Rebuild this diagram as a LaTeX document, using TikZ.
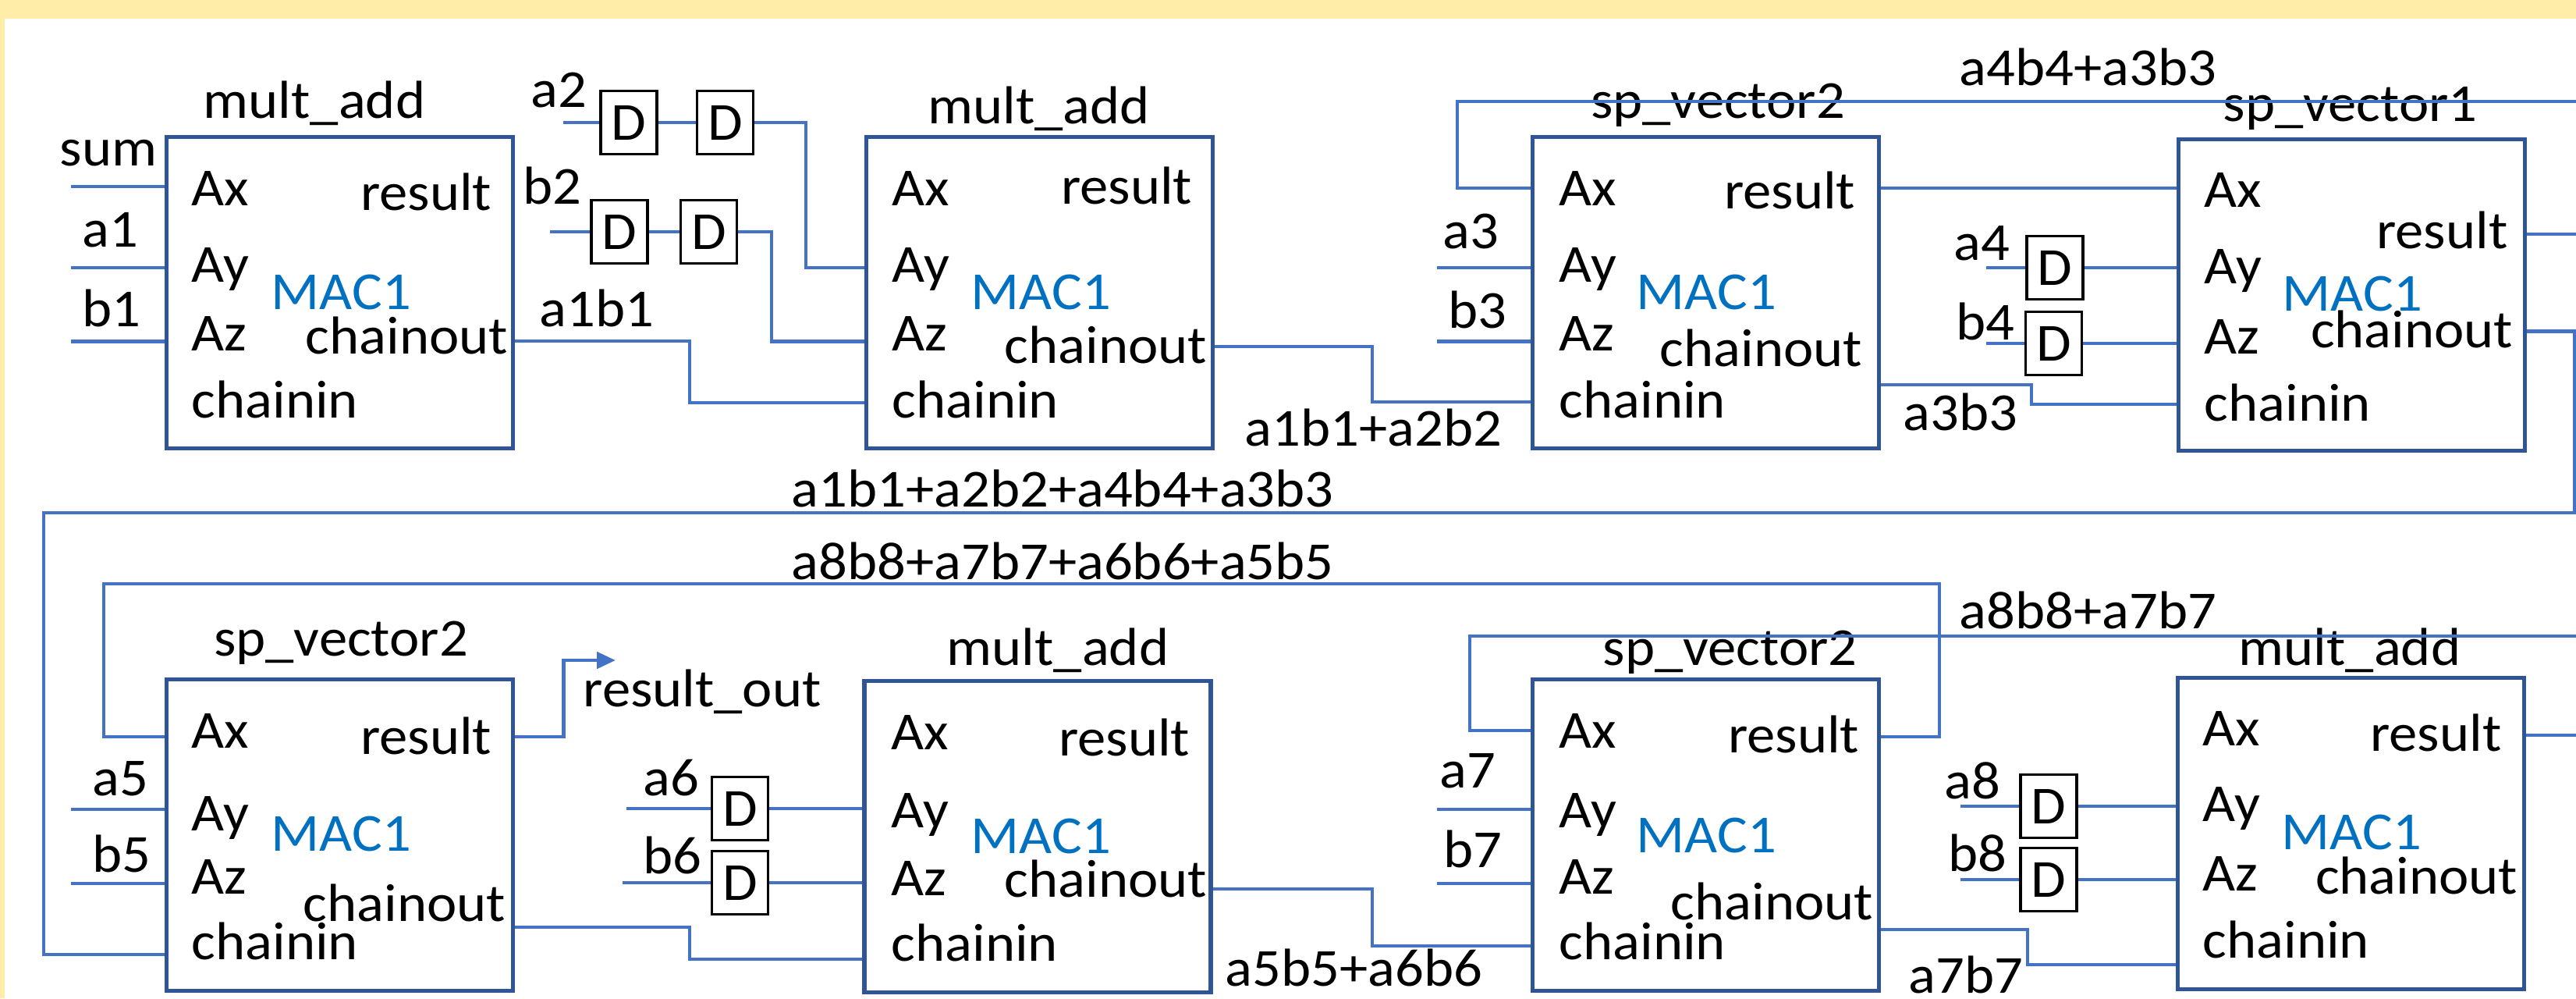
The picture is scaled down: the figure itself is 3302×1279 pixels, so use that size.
\documentclass[tikz,border=0pt]{standalone}
\usepackage{fontspec}
\setmainfont{Carlito}[FakeStretch=1.06]
\usepackage{xcolor}
\usetikzlibrary{arrows.meta, positioning}

\definecolor{boxblue}{HTML}{2F5597}
\definecolor{wireblue}{HTML}{4472C4}
\definecolor{macblue}{HTML}{0070C0}
\definecolor{bandyellow}{HTML}{FFEDA8}

\begin{document}
\begin{tikzpicture}[
  x=0.1mm, y=-0.1mm,
  font=\fontsize{19.5}{24}\selectfont,
  mac/.style={
    draw=boxblue,
    line width=1.6pt,
    minimum width=44.4mm,
    minimum height=39.9mm,
    inner sep=0pt
  },
  dff/.style={draw, line width=0.9pt, fill=white, minimum width=7.2mm, minimum height=8.1mm, inner sep=0pt},
  wire/.style={draw=wireblue, line width=1.4pt},
  outwire/.style={wire, -{Triangle[length=2.4mm, width=2.1mm]}},
  txt/.style={anchor=base west, inner sep=0pt},
  txtr/.style={anchor=base east, inner sep=0pt},
  title/.style={anchor=base, inner sep=0pt},
  tag/.style={anchor=base west, inner sep=0pt, text=macblue}
]

% frame
\useasboundingbox (0,0) rectangle (3302,1279);
\fill[white] (0,0) rectangle (3302,1279);
\fill[bandyellow] (0,0) rectangle (3302,24);
\fill[bandyellow] (0,0) rectangle (6,1279);

% ================= row 1 =================
\node[mac] (madd_a) at (435.5,375) {};
\node[title] (madd_a_t) at (403,151) {mult\_add};
\node[txt] (madd_a_ax) at (245,263) {Ax};
\node[txt] (madd_a_ay) at (245,361) {Ay};
\node[txt] (madd_a_az) at (245,449) {Az};
\node[txt] (madd_a_ci) at (245,535) {chainin};
\node[txtr] (madd_a_r) at (631,269) {result};
\node[txtr] (madd_a_co) at (652,453) {chainout};
\node[tag] (madd_a_m) at (347,396) {MAC1};

\node[mac] (madd_b) at (1332.5,375) {};
\node[title] (madd_b_t) at (1331.5,158) {mult\_add};
\node[txt] (madd_b_ax) at (1143,263) {Ax};
\node[txt] (madd_b_ay) at (1143,361) {Ay};
\node[txt] (madd_b_az) at (1143,449) {Az};
\node[txt] (madd_b_ci) at (1143,535) {chainin};
\node[txtr] (madd_b_r) at (1529,261) {result};
\node[txtr] (madd_b_co) at (1548,465) {chainout};
\node[tag] (madd_b_m) at (1244,396) {MAC1};

\node[mac] (spv2_a) at (2186.5,375) {};
\node[title] (spv2_a_t) at (2202,151) {sp\_vector2};
\node[txt] (spv2_a_ax) at (1998,263) {Ax};
\node[txt] (spv2_a_ay) at (1998,361) {Ay};
\node[txt] (spv2_a_az) at (1998,449) {Az};
\node[txt] (spv2_a_ci) at (1998,535) {chainin};
\node[txtr] (spv2_a_r) at (2379,267) {result};
\node[txtr] (spv2_a_co) at (2388,469) {chainout};
\node[tag] (spv2_a_m) at (2097,396) {MAC1};

\node[mac] (spv1) at (3014.5,378) {};
\node[title] (spv1_t) at (3012.5,155) {sp\_vector1};
\node[txt] (spv1_ax) at (2825,265) {Ax};
\node[txt] (spv1_ay) at (2825,363) {Ay};
\node[txt] (spv1_az) at (2825,453) {Az};
\node[txt] (spv1_ci) at (2825,539) {chainin};
\node[txtr] (spv1_r) at (3215,318) {result};
\node[txtr] (spv1_co) at (3222,445) {chainout};
\node[tag] (spv1_m) at (2925,398) {MAC1};

% inputs, row 1
\coordinate (in_sum) at (91,239);
\coordinate (in_a1) at (91,343);
\coordinate (in_b1) at (91,437.5);
\node[txt] (l_sum) at (76,212) {sum};
\node[txt] (l_a1) at (105,316) {a1};
\node[txt] (l_b1) at (105,418) {b1};
\draw[wire] (in_sum) -- (in_sum -| madd_a.west);
\draw[wire] (in_a1) -- (in_a1 -| madd_a.west);
\draw[wire] (in_b1) -- (in_b1 -| madd_a.west);

\coordinate (in_a2) at (722,157);
\coordinate (in_b2) at (705,297);
\node[txt] (l_a2) at (680,137) {a2};
\node[txt] (l_b2) at (670,261) {b2};
\node[dff] (d_a2a) at (806,157) {D};
\node[dff] (d_a2b) at (929.5,157) {D};
\node[dff] (d_b2a) at (794,297) {D};
\node[dff] (d_b2b) at (908.5,297) {D};
\draw[wire] (in_a2) -- (d_a2a);
\draw[wire] (d_a2a) -- (d_a2b);
\draw[wire] (d_a2b) -| (1033,343) -- (madd_b.west |- 0,343);
\draw[wire] (in_b2) -- (d_b2a);
\draw[wire] (d_b2a) -- (d_b2b);
\draw[wire] (d_b2b) -| (989,437.5) -- (madd_b.west |- 0,437.5);

\draw[wire] (madd_a.east |- 0,437) -| (884,516) -- (madd_b.west |- 0,516);
\node[txt] (l_a1b1) at (691,418) {a1b1};

\draw[wire] (madd_b.east |- 0,444) -| (1759,515) -- (spv2_a.west |- 0,515);
\node[txt] (l_a1b1a2b2) at (1595,571) {a1b1+a2b2};

\coordinate (in_a3) at (1842,343);
\coordinate (in_b3) at (1842,437.5);
\node[txt] (l_a3) at (1849,318) {a3};
\node[txt] (l_b3) at (1856,420) {b3};
\draw[wire] (in_a3) -- (in_a3 -| spv2_a.west);
\draw[wire] (in_b3) -- (in_b3 -| spv2_a.west);

\coordinate (fb_top) at (3302,130);
\draw[wire] (fb_top) -| (1868,241) -- (spv2_a.west |- 0,241);
\node[txt] (l_a4b4a3b3) at (2511,109) {a4b4+a3b3};

\draw[wire] (spv2_a.east |- 0,241) -- (spv1.west |- 0,241);

\coordinate (in_a4) at (2546,343);
\coordinate (in_b4) at (2546,440);
\node[txt] (l_a4) at (2504,333) {a4};
\node[txt] (l_b4) at (2507,435) {b4};
\node[dff] (d_a4) at (2634,343) {D};
\node[dff] (d_b4) at (2632.5,440) {D};
\draw[wire] (in_a4) -- (d_a4);
\draw[wire] (d_a4) -- (d_a4 -| spv1.west);
\draw[wire] (in_b4) -- (d_b4);
\draw[wire] (d_b4) -- (d_b4 -| spv1.west);

\draw[wire] (spv2_a.east |- 0,493) -| (2604,518) -- (spv1.west |- 0,518);
\node[txt] (l_a3b3) at (2439,551) {a3b3};

\coordinate (res_top) at (3302,300);
\draw[wire] (spv1.east |- 0,300) -- (res_top);

% ================= row 2 =================
\node[mac] (spv2_b) at (435.5,1070) {};
\node[title] (spv2_b_t) at (437,840) {sp\_vector2};
\node[txt] (spv2_b_ax) at (245,958) {Ax};
\node[txt] (spv2_b_ay) at (245,1064) {Ay};
\node[txt] (spv2_b_az) at (245,1145) {Az};
\node[txt] (spv2_b_ci) at (245,1229) {chainin};
\node[txtr] (spv2_b_r) at (631,966) {result};
\node[txtr] (spv2_b_co) at (649,1180) {chainout};
\node[tag] (spv2_b_m) at (347,1090) {MAC1};

\node[mac] (madd_c) at (1330,1072) {};
\node[title] (madd_c_t) at (1356,852) {mult\_add};
\node[txt] (madd_c_ax) at (1142,960) {Ax};
\node[txt] (madd_c_ay) at (1142,1060) {Ay};
\node[txt] (madd_c_az) at (1142,1147) {Az};
\node[txt] (madd_c_ci) at (1142,1231) {chainin};
\node[txtr] (madd_c_r) at (1526,968) {result};
\node[txtr] (madd_c_co) at (1548,1149) {chainout};
\node[tag] (madd_c_m) at (1244,1093) {MAC1};

\node[mac] (spv2_c) at (2186.5,1070) {};
\node[title] (spv2_c_t) at (2217.5,852) {sp\_vector2};
\node[txt] (spv2_c_ax) at (1998,958) {Ax};
\node[txt] (spv2_c_ay) at (1998,1060) {Ay};
\node[txt] (spv2_c_az) at (1998,1145) {Az};
\node[txt] (spv2_c_ci) at (1998,1229) {chainin};
\node[txtr] (spv2_c_r) at (2384,964) {result};
\node[txtr] (spv2_c_co) at (2402,1178) {chainout};
\node[tag] (spv2_c_m) at (2097,1092) {MAC1};

\node[mac] (madd_d) at (3013.5,1068) {};
\node[title] (madd_d_t) at (3012,852) {mult\_add};
\node[txt] (madd_d_ax) at (2823,955) {Ax};
\node[txt] (madd_d_ay) at (2823,1052) {Ay};
\node[txt] (madd_d_az) at (2823,1141) {Az};
\node[txt] (madd_d_ci) at (2823,1227) {chainin};
\node[txtr] (madd_d_r) at (3207,962) {result};
\node[txtr] (madd_d_co) at (3228,1145) {chainout};
\node[tag] (madd_d_m) at (2924,1088) {MAC1};

% chain from row 1 into row 2
\draw[wire] (spv1.east |- 0,424.5) -| (3300,657) -| (56,1223) -- (spv2_b.west |- 0,1223);
\node[txt] (l_sum4) at (1014,649) {a1b1+a2b2+a4b4+a3b3};

% feedback of the second sum
\draw[wire] (spv2_c.east |- 0,944) -| (2486,748) -| (133,944) -- (spv2_b.west |- 0,944);
\node[txt] (l_sum8) at (1014,742) {a8b8+a7b7+a6b6+a5b5};

% inputs, row 2
\coordinate (in_a5) at (91,1037);
\coordinate (in_b5) at (91,1132);
\node[txt] (l_a5) at (118,1019) {a5};
\node[txt] (l_b5) at (118,1117) {b5};
\draw[wire] (in_a5) -- (in_a5 -| spv2_b.west);
\draw[wire] (in_b5) -- (in_b5 -| spv2_b.west);

\coordinate (res_out) at (789,846);
\draw[outwire] (spv2_b.east |- 0,944) -| (722.5,846) -- (res_out);
\node[txt] (l_resout) at (747,905) {result\_out};

\coordinate (in_a6) at (803,1036);
\coordinate (in_b6) at (798,1131);
\node[txt] (l_a6) at (824,1019) {a6};
\node[txt] (l_b6) at (824,1119) {b6};
\node[dff] (d_a6) at (948.5,1036) {D};
\node[dff] (d_b6) at (948.5,1131) {D};
\draw[wire] (in_a6) -- (d_a6);
\draw[wire] (d_a6) -- (d_a6 -| madd_c.west);
\draw[wire] (in_b6) -- (d_b6);
\draw[wire] (d_b6) -- (d_b6 -| madd_c.west);

\draw[wire] (spv2_b.east |- 0,1188) -| (884,1229) -- (madd_c.west |- 0,1229);

\draw[wire] (madd_c.east |- 0,1139) -| (1759,1212) -- (spv2_c.west |- 0,1212);
\node[txt] (l_a5b5a6b6) at (1570,1263) {a5b5+a6b6};

\coordinate (in_a7) at (1842,1037);
\coordinate (in_b7) at (1842,1132);
\node[txt] (l_a7) at (1845,1009) {a7};
\node[txt] (l_b7) at (1850,1111) {b7};
\draw[wire] (in_a7) -- (in_a7 -| spv2_c.west);
\draw[wire] (in_b7) -- (in_b7 -| spv2_c.west);

\coordinate (fb_bot) at (3302,815);
\draw[wire] (fb_bot) -| (1884,936) -- (spv2_c.west |- 0,936);
\node[txt] (l_a8b8a7b7) at (2511,805) {a8b8+a7b7};

\coordinate (in_a8) at (2513,1033);
\coordinate (in_b8) at (2513,1127);
\node[txt] (l_a8) at (2492,1023) {a8};
\node[txt] (l_b8) at (2497,1116) {b8};
\node[dff] (d_a8) at (2626,1033) {D};
\node[dff] (d_b8) at (2626,1127) {D};
\draw[wire] (in_a8) -- (d_a8);
\draw[wire] (d_a8) -- (d_a8 -| madd_d.west);
\draw[wire] (in_b8) -- (d_b8);
\draw[wire] (d_b8) -- (d_b8 -| madd_d.west);

\draw[wire] (spv2_c.east |- 0,1191) -| (2599,1236) -- (madd_d.west |- 0,1236);
\node[txt] (l_a7b7) at (2446,1272) {a7b7};

\coordinate (res_bot) at (3302,942);
\draw[wire] (madd_d.east |- 0,942) -- (res_bot);

\end{tikzpicture}
\end{document}
